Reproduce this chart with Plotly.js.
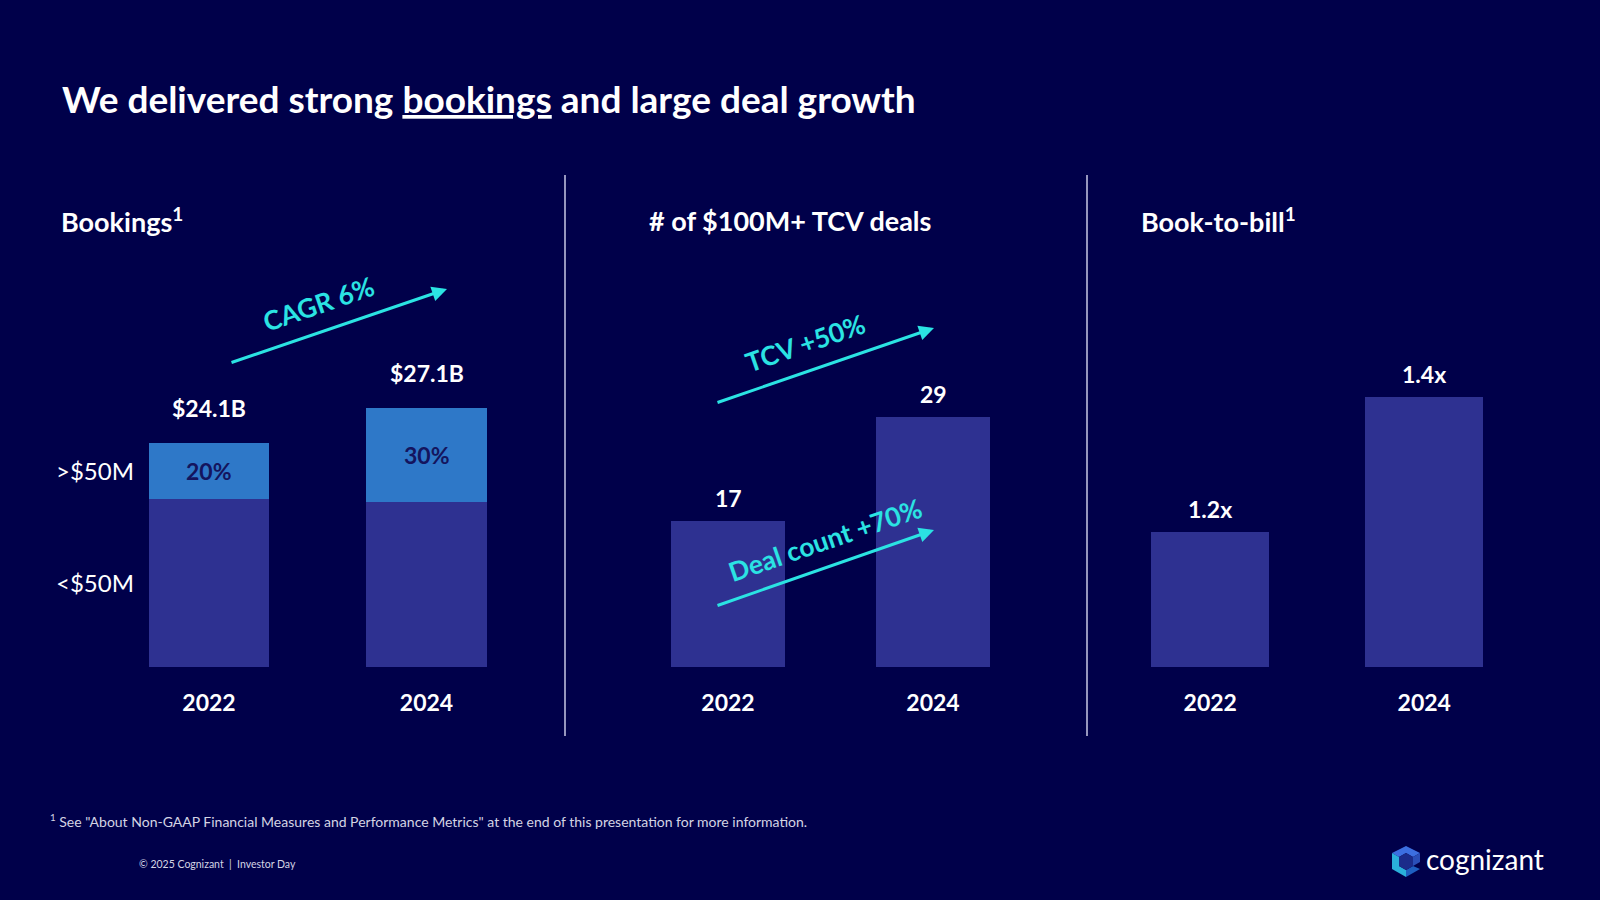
<!DOCTYPE html>
<html>
<head>
<meta charset="utf-8">
<script src="https://cdn.plot.ly/plotly-3.0.1.min.js"></script>
<style>html,body{margin:0;padding:0;background:#00004A;}#chart{width:1600px;height:900px;}</style>
</head>
<body>
<div id="chart"></div>
<script>
// ---- data ----
const years = ['2022', '2024'];
const bookingsUnder50 = [19.3, 19.0];   // $B, <$50M deals
const bookingsOver50 = [4.8, 8.1];      // $B, >$50M deals
const bookingsTotal = [24.1, 27.1];
const bookingsTotalLabels = ['$24.1B', '$27.1B'];
const over50Share = ['20%', '30%'];
const largeDeals = [17, 29];
const bookToBill = [1.2, 1.4];
const bookToBillLabels = ['1.2x', '1.4x'];
const rowLabels = ['&gt;$50M', '&lt;$50M'];

// ---- style ----
const BG = '#00004A';
const BAR = '#2E3191';
const BAR_UP = '#2E78C8';
const CYAN = '#2BE3E3';
const WHITE = '#FFFFFF';
const FONT = 'Lato, "Open Sans", sans-serif';
const px = x => x / 1600;
const py = y => 1 - y / 900;

const traces = [
  {type: 'bar', x: years, y: bookingsUnder50, xaxis: 'x', yaxis: 'y', marker: {color: BAR}, width: 0.552, hoverinfo: 'skip'},
  {type: 'bar', x: years, y: bookingsOver50, xaxis: 'x', yaxis: 'y', marker: {color: BAR_UP}, width: 0.552, hoverinfo: 'skip'},
  {type: 'bar', x: years, y: largeDeals, xaxis: 'x2', yaxis: 'y2', marker: {color: BAR}, width: 0.556, hoverinfo: 'skip'},
  {type: 'bar', x: years, y: bookToBill, xaxis: 'x3', yaxis: 'y3', marker: {color: BAR}, width: 0.551, hoverinfo: 'skip', base: 0}
];

const xCommon = {
  type: 'category', range: [-0.5, 1.5], showgrid: false, zeroline: false, showline: false,
  ticks: '', fixedrange: true, ticklabelstandoff: 20,
  tickfont: {family: FONT, size: 23, color: WHITE, weight: 'bold'}
};
const yCommon = {visible: false, showgrid: false, zeroline: false, fixedrange: true, domain: [py(667), py(167)]};

const ann = [];
function txt(text, x, y, size, opts) {
  ann.push(Object.assign({
    text: text, x: x, y: y, xref: 'paper', yref: 'paper', showarrow: false,
    xanchor: 'left', yanchor: 'middle',
    font: {family: FONT, size: size, color: WHITE}
  }, opts || {}));
}

// slide title
txt('We delivered strong <u>bookings</u> and large deal growth', px(60), py(99), 37, {font: {family: FONT, size: 37, color: WHITE, weight: 'bold'}});
// panel titles
txt('Bookings<sup>1</sup>', px(59), py(220), 27, {font: {family: FONT, size: 27, color: WHITE, weight: 'bold'}});
txt('# of $100M+ TCV deals', px(647), py(220), 27, {font: {family: FONT, size: 27, color: WHITE, weight: 'bold'}});
txt('Book-to-bill<sup>1</sup>', px(1139), py(220), 27, {font: {family: FONT, size: 27, color: WHITE, weight: 'bold'}});

// value labels (category index positions on each axis)
years.forEach((yr, i) => {
  ann.push({text: bookingsTotalLabels[i], x: i, y: bookingsTotal[i], xref: 'x', yref: 'y', showarrow: false,
    yanchor: 'middle', yshift: 35, font: {family: FONT, size: 23, color: WHITE, weight: 'bold'}});
  ann.push({text: over50Share[i], x: i, y: bookingsUnder50[i] + bookingsOver50[i] / 2, xref: 'x', yref: 'y', showarrow: false,
    yanchor: 'middle', font: {family: FONT, size: 23, color: '#14145E', weight: 'bold'}});
  ann.push({text: String(largeDeals[i]), x: i, y: largeDeals[i], xref: 'x2', yref: 'y2', showarrow: false,
    yanchor: 'middle', yshift: 23, font: {family: FONT, size: 23, color: WHITE, weight: 'bold'}});
  ann.push({text: bookToBillLabels[i], x: i, y: bookToBill[i], xref: 'x3', yref: 'y3', showarrow: false,
    yanchor: 'middle', yshift: 23, font: {family: FONT, size: 23, color: WHITE, weight: 'bold'}});
});
// row labels aligned to 2022 segments
ann.push({text: rowLabels[0], x: px(136), y: bookingsUnder50[0] + bookingsOver50[0] / 2, xref: 'paper', yref: 'y', showarrow: false,
  xanchor: 'right', yanchor: 'middle', font: {family: FONT, size: 24, color: WHITE}});
ann.push({text: rowLabels[1], x: px(136), y: (4.8 + bookingsUnder50[0]) / 2, xref: 'paper', yref: 'y', showarrow: false,
  xanchor: 'right', yanchor: 'middle', font: {family: FONT, size: 24, color: WHITE}});

// growth arrows
function arrow(x0, y0, x1, y1) {
  ann.push({text: '', x: px(x1), y: py(y1), ax: px(x0), ay: py(y0), xref: 'paper', yref: 'paper', axref: 'paper', ayref: 'paper',
    showarrow: true, arrowhead: 2, arrowsize: 1, arrowwidth: 3, arrowcolor: CYAN, standoff: 0, startstandoff: 0});
}
arrow(230, 363, 447, 289);
arrow(716, 403, 934, 328);
arrow(716, 606, 934, 530);
function rot(text, x, y) {
  ann.push({text: text, x: px(x), y: py(y), xref: 'paper', yref: 'paper', showarrow: false, textangle: -19,
    xanchor: 'center', yanchor: 'middle', font: {family: FONT, size: 26.5, color: CYAN, weight: 'bold'}});
}
rot('CAGR 6%', 318, 304);
rot('TCV +50%', 805, 343);
rot('Deal count +70%', 825, 540);

// footer
txt('<sup>1</sup> See "About Non-GAAP Financial Measures and Performance Metrics" at the end of this presentation for more information.', px(48), py(820), 14, {font: {family: FONT, size: 14, color: '#D4D4E4'}});
txt('© 2025 Cognizant  |  Investor Day', px(137), py(864), 10.5, {font: {family: FONT, size: 10.5, color: '#D4D4E4'}});
txt('cognizant', px(1424), py(859), 28, {font: {family: FONT, size: 28, color: WHITE}});

const shapes = [
  {type: 'line', xref: 'paper', yref: 'paper', x0: px(565), x1: px(565), y0: py(175), y1: py(736), line: {color: '#C8C8E6', width: 1.5}},
  {type: 'line', xref: 'paper', yref: 'paper', x0: px(1087), x1: px(1087), y0: py(175), y1: py(736), line: {color: '#C8C8E6', width: 1.5}}
];
// logo icon (hexagon facets)
function poly(pts, color) {
  const d = 'M ' + pts.map(p => px(p[0]) + ',' + py(p[1])).join(' L ') + ' Z';
  shapes.push({type: 'path', xref: 'paper', yref: 'paper', path: d, fillcolor: color, line: {width: 0}});
}
poly([[1406, 846], [1420, 853], [1413, 857], [1406, 853], [1399, 857], [1392, 853]], '#3C6FE0');
poly([[1392, 853], [1399, 857], [1399, 866], [1406, 870], [1406, 877], [1392, 869]], '#2AB0DA');
poly([[1406, 870], [1413, 866], [1420, 869], [1406, 877]], '#1E5FC0');
poly([[1413, 857], [1420, 853], [1420, 862], [1413, 866]], '#2A4FB8');
poly([[1399, 857], [1406, 853], [1413, 857], [1413, 866], [1406, 870], [1399, 866]], '#1B2C8A');

const layout = {
  width: 1600, height: 900, margin: {l: 0, r: 0, t: 0, b: 0},
  paper_bgcolor: BG, plot_bgcolor: 'rgba(0,0,0,0)',
  showlegend: false, barmode: 'stack',
  xaxis: Object.assign({}, xCommon, {domain: [px(100.25), px(535.25)], anchor: 'y'}),
  yaxis: Object.assign({}, yCommon, {range: [4.8, 47.9], anchor: 'x'}),
  xaxis2: Object.assign({}, xCommon, {domain: [px(625.5), px(1035.5)], anchor: 'y2'}),
  yaxis2: Object.assign({}, yCommon, {range: [0, 58.1], anchor: 'x2'}),
  xaxis3: Object.assign({}, xCommon, {domain: [px(1103.25), px(1531.25)], anchor: 'y3'}),
  yaxis3: Object.assign({}, yCommon, {range: [1.0, 1.741], anchor: 'x3'}),
  annotations: ann, shapes: shapes
};

Plotly.newPlot('chart', traces, layout, {displayModeBar: false, staticPlot: true});
</script>
</body>
</html>
